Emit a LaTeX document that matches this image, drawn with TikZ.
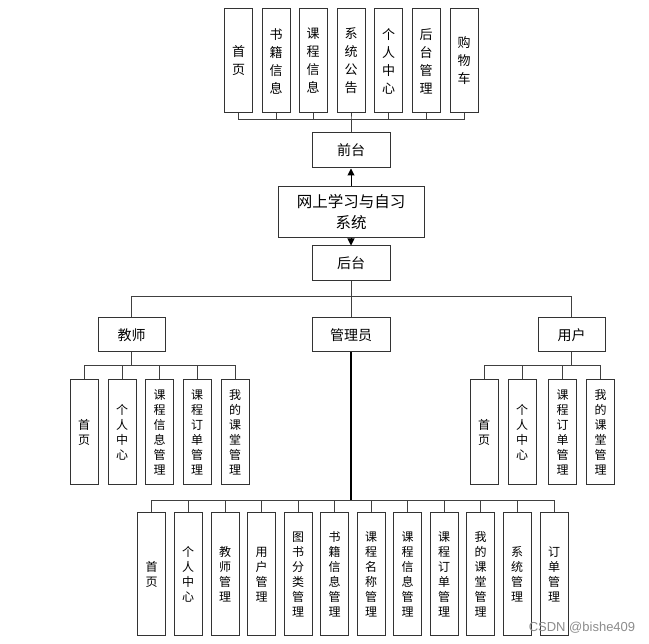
\documentclass[tikz,border=0pt]{standalone}
\usepackage{fontspec}
\setmainfont{Noto Sans CJK SC}
\newfontfamily\wmfont{Liberation Sans}
\usetikzlibrary{arrows.meta}
\tikzset{
  x=1pt, y=-1pt,
  boxbase/.style={draw=black!80, line width=1pt, inner sep=0pt, align=center},
  topbox/.style={boxbase, minimum width=28pt, minimum height=104pt, font=\fontsize{13}{18}\selectfont},
  midbox/.style={boxbase, minimum height=35pt, font=\fontsize{14}{21}\selectfont},
  leafbox/.style={boxbase, minimum width=28pt, font=\fontsize{12}{15}\selectfont},
  tleaf/.style={leafbox, minimum height=105pt},
  aleaf/.style={leafbox, minimum height=123pt},
  conn/.style={draw=black!75, line width=1pt},
  arr/.style={draw=black, line width=1pt, -{Triangle[length=7pt,width=7pt]}}
}
\begin{document}
\begin{tikzpicture}
\useasboundingbox (0,0) rectangle (649,644);
% top row
\node[topbox] (t1) at (238.5,61) {首\\页};
\node[topbox] (t2) at (276,61) {书\\籍\\信\\息};
\node[topbox] (t3) at (313,61) {课\\程\\信\\息};
\node[topbox] (t4) at (351,61) {系\\统\\公\\告};
\node[topbox] (t5) at (388.5,61) {个\\人\\中\\心};
\node[topbox] (t6) at (426,61) {后\\台\\管\\理};
\node[topbox] (t7) at (464,61) {购\\物\\车};
% middle
\node[midbox, minimum width=78pt] (front) at (351,150.5) {前台};
\node[boxbase, minimum width=146pt, minimum height=51pt, font=\fontsize{15.5}{21}\selectfont] (sys) at (351,212.5) {网上学习与自习\\系统};
\node[midbox, minimum width=78pt] (back) at (351,263.5) {后台};
\node[midbox, minimum width=67pt, minimum height=34pt] (teacher) at (131.5,335) {教师};
\node[midbox, minimum width=78pt, minimum height=34pt] (admin) at (351,335) {管理员};
\node[midbox, minimum width=67pt, minimum height=34pt] (user) at (571.5,335) {用户};
% teacher leaves
\node[tleaf] (te1) at (84,432.5) {首\\页};
\node[tleaf] (te2) at (122,432.5) {个\\人\\中\\心};
\node[tleaf] (te3) at (159.5,432.5) {课\\程\\信\\息\\管\\理};
\node[tleaf] (te4) at (197,432.5) {课\\程\\订\\单\\管\\理};
\node[tleaf] (te5) at (235,432.5) {我\\的\\课\\堂\\管\\理};
% user leaves
\node[tleaf] (u1) at (484,432.5) {首\\页};
\node[tleaf] (u2) at (522,432.5) {个\\人\\中\\心};
\node[tleaf] (u3) at (562.5,432.5) {课\\程\\订\\单\\管\\理};
\node[tleaf] (u4) at (600.5,432.5) {我\\的\\课\\堂\\管\\理};
% admin leaves
\node[aleaf] (a1) at (151.7,574.5) {首\\页};
\node[aleaf] (a2) at (188,574.5) {个\\人\\中\\心};
\node[aleaf] (a3) at (225,574.5) {教\\师\\管\\理};
\node[aleaf] (a4) at (261.5,574.5) {用\\户\\管\\理};
\node[aleaf] (a5) at (298,574.5) {图\\书\\分\\类\\管\\理};
\node[aleaf] (a6) at (334.5,574.5) {书\\籍\\信\\息\\管\\理};
\node[aleaf] (a7) at (371,574.5) {课\\程\\名\\称\\管\\理};
\node[aleaf] (a8) at (407.5,574.5) {课\\程\\信\\息\\管\\理};
\node[aleaf] (a9) at (444,574.5) {课\\程\\订\\单\\管\\理};
\node[aleaf] (a10) at (480.5,574.5) {我\\的\\课\\堂\\管\\理};
\node[aleaf] (a11) at (517,574.5) {系\\统\\管\\理};
\node[aleaf] (a12) at (554,574.5) {订\\单\\管\\理};
% watermark
\node[text=black!45, font=\wmfont\fontsize{13}{13}\selectfont, inner sep=0pt] (wm) at (582,628) {CSDN @bishe409};
% connectors
\foreach \n in {t1,t2,t3,t4,t5,t6,t7}
  \draw[conn] (front.north) -- ++(0,-13) -| (\n.south);
\draw[arr] (sys.north) -- (front.south);
\draw[arr] (sys.south) -- (back.north);
\foreach \n in {teacher,user}
  \draw[conn] (back.south) -- ++(0,15) -| (\n.north);
\draw[conn] (back.south) -- (admin.north);
\foreach \n in {te1,te2,te3,te4,te5}
  \draw[conn] (teacher.south) -- ++(0,13) -| (\n.north);
\foreach \n in {u1,u2,u3,u4}
  \draw[conn] (user.south) -- ++(0,13) -| (\n.north);
\draw[draw=black, line width=2pt] (admin.south) -- ++(0,148) coordinate (abus);
\foreach \n in {a1,a2,a3,a4,a5,a6,a7,a8,a9,a10,a11,a12}
  \draw[conn] (abus) -| (\n.north);
\end{tikzpicture}
\end{document}
